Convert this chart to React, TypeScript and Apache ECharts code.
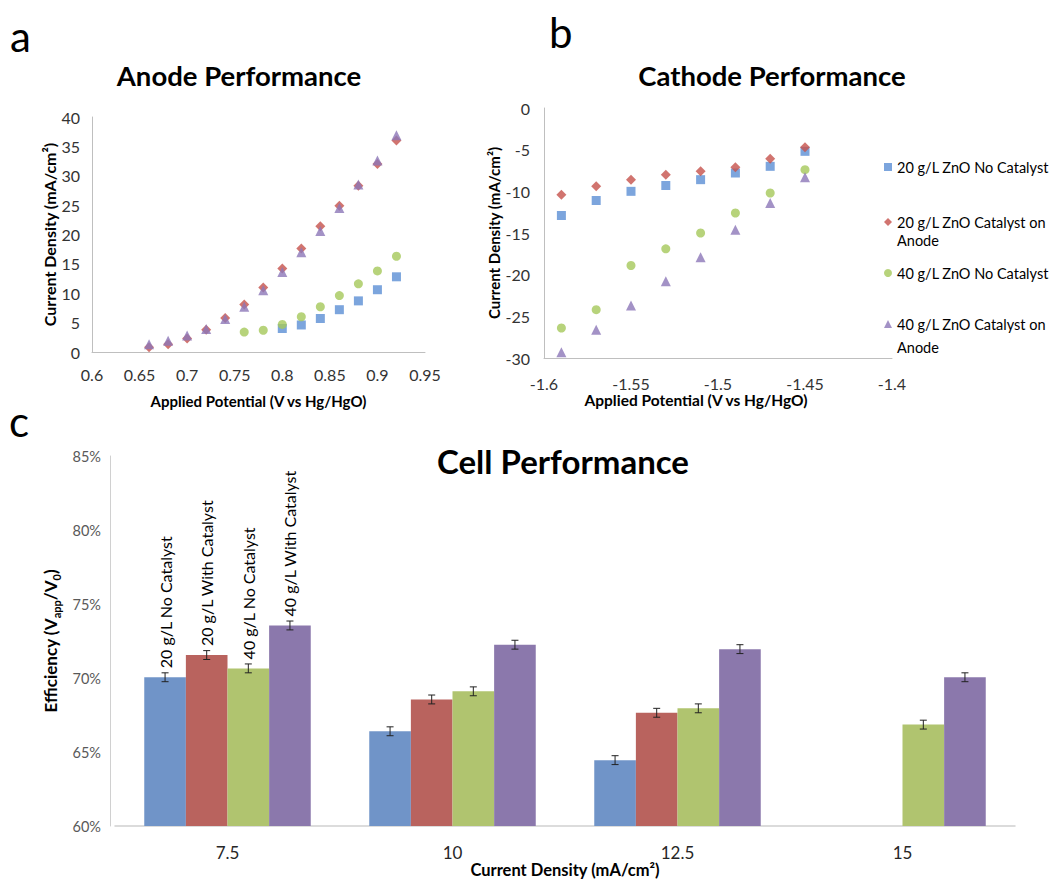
import React, { useEffect, useRef } from "react";
import * as echarts from "echarts";

const FONT = 'Lato, "Open Sans", sans-serif';

// Panel a: Anode performance
const anodeX = [0.66, 0.68, 0.7, 0.72, 0.74, 0.76, 0.78, 0.8, 0.82, 0.84, 0.86, 0.88, 0.9, 0.92];
const anode20NoCat = [null, null, null, null, null, null, null, 4.0, 4.6, 5.7, 7.2, 8.7, 10.6, 12.8];
const anode20Cat = [0.8, 1.3, 2.3, 3.8, 5.8, 8.1, 11.0, 14.2, 17.6, 21.4, 24.9, 28.3, 32.0, 36.0];
const anode40NoCat = [null, null, null, null, null, 3.4, 3.7, 4.7, 6.0, 7.7, 9.6, 11.6, 13.8, 16.3];
const anode40Cat = [1.3, 1.9, 2.8, 3.9, 5.6, 7.7, 10.5, 13.6, 17.0, 20.6, 24.5, 28.5, 32.6, 36.9];

// Panel b: Cathode performance
const cathodeX = [-1.59, -1.57, -1.55, -1.53, -1.51, -1.49, -1.47, -1.45];
const cath20NoCat = [-12.9, -11.1, -10.0, -9.3, -8.6, -7.8, -7.0, -5.2];
const cath20Cat = [-10.4, -9.4, -8.6, -8.0, -7.6, -7.1, -6.1, -4.7];
const cath40NoCat = [-26.4, -24.2, -18.9, -16.9, -15.0, -12.6, -10.2, -7.4];
const cath40Cat = [-29.3, -26.6, -23.7, -20.8, -17.9, -14.6, -11.4, -8.3];

const scatterNames = [
  "20 g/L ZnO No Catalyst",
  "20 g/L ZnO Catalyst on Anode",
  "40 g/L ZnO No Catalyst",
  "40 g/L ZnO Catalyst on Anode",
];
const scatterSymbols = ["rect", "diamond", "circle", "triangle"];
const scatterSizes = [9, 10, 9, 10];
const scatterColors = ["#5B8FD4", "#C5514B", "#A5C85A", "#8C77B8"];

// Panel c: Cell performance
const cellCategories = ["7.5", "10", "12.5", "15"];
const barNames = ["20 g/L No Catalyst", "20 g/L With Catalyst", "40 g/L No Catalyst", "40 g/L With Catalyst"];
const bar20NoCat = [70.05, 66.4, 64.45, null];
const bar20Cat = [71.55, 68.55, 67.65, null];
const bar40NoCat = [70.65, 69.1, 67.95, 66.85];
const bar40Cat = [73.55, 72.25, 71.95, 70.05];
const barErr = [0.3, 0.3, 0.3, 0.3];
const barColors = ["#7094C8", "#B9635E", "#B0C46F", "#8B78AC"];

const CAT_GAP = 0.26;

function pairs(xs: number[], ys: (number | null)[]) {
  const out: number[][] = [];
  ys.forEach((y, i) => {
    if (y !== null) out.push([xs[i], y]);
  });
  return out;
}

export default function App() {
  const ref = useRef<HTMLDivElement>(null);

  useEffect(() => {
    document.body.style.margin = "0";
    if (!ref.current) return;
    const chart = echarts.init(ref.current, null, { renderer: "svg" });

    const anodeSets = [anode20NoCat, anode20Cat, anode40NoCat, anode40Cat];
    const cathSets = [cath20NoCat, cath20Cat, cath40NoCat, cath40Cat];
    const barSets = [bar20NoCat, bar20Cat, bar40NoCat, bar40Cat];

    const axisLineGray = { show: true, onZero: false, lineStyle: { color: "#BFBFBF", width: 1 } };
    const tickLabel = { fontSize: 16, color: "#333", fontFamily: FONT };
    const nameStyle = { fontSize: 15, fontWeight: "bold", color: "#000", fontFamily: FONT };

    const series: any[] = [];
    scatterNames.forEach((name, k) => {
      series.push({
        type: "scatter",
        name,
        xAxisIndex: 0,
        yAxisIndex: 0,
        symbol: scatterSymbols[k],
        symbolSize: scatterSizes[k],
        itemStyle: { color: scatterColors[k] },
        data: pairs(anodeX, anodeSets[k]),
      });
    });
    scatterNames.forEach((name, k) => {
      series.push({
        type: "scatter",
        name,
        xAxisIndex: 1,
        yAxisIndex: 1,
        symbol: scatterSymbols[k],
        symbolSize: scatterSizes[k],
        itemStyle: { color: scatterColors[k] },
        data: pairs(cathodeX, cathSets[k]),
      });
    });
    barNames.forEach((name, k) => {
      series.push({
        type: "bar",
        name,
        xAxisIndex: 2,
        yAxisIndex: 2,
        barGap: "0%",
        barCategoryGap: CAT_GAP * 100 + "%",
        itemStyle: { color: barColors[k] },
        label: {
          show: false,
          position: "top",
          rotate: 90,
          align: "left",
          verticalAlign: "middle",
          distance: 9,
          formatter: name,
          fontSize: 16,
          color: "#000",
          fontFamily: FONT,
        },
        data: barSets[k].map((v, i) => (i === 0 && v !== null ? { value: v, label: { show: true } } : v)),
      });
    });
    barNames.forEach((name, k) => {
      const data = barSets[k]
        .map((v, i) => (v === null ? null : [i, v, barErr[i]]))
        .filter((d) => d !== null);
      series.push({
        type: "custom",
        name: name + " error",
        xAxisIndex: 2,
        yAxisIndex: 2,
        z: 5,
        data,
        encode: { x: 0, y: 1 },
        renderItem: (params: any, api: any) => {
          const idx = api.value(0);
          const v = api.value(1);
          const e = api.value(2);
          const c = api.coord([idx, v]);
          const band = api.size([1, 0])[0];
          const bw = (band * (1 - CAT_GAP)) / 4;
          const x = c[0] + (k - 1.5) * bw;
          const yTop = api.coord([idx, v + e])[1];
          const yBot = api.coord([idx, v - e])[1];
          const st = { stroke: "#222", lineWidth: 1 };
          return {
            type: "group",
            children: [
              { type: "line", shape: { x1: x, y1: yTop, x2: x, y2: yBot }, style: st },
              { type: "line", shape: { x1: x - 3.5, y1: yTop, x2: x + 3.5, y2: yTop }, style: st },
              { type: "line", shape: { x1: x - 3.5, y1: yBot, x2: x + 3.5, y2: yBot }, style: st },
            ],
          };
        },
      });
    });

    const legendTops = [159, 214, 265, 316];
    const legends = scatterNames.map((n, i) => ({
      data: [n],
      left: 884,
      top: legendTops[i],
      orient: "vertical",
      itemWidth: 8,
      itemHeight: 8,
      itemGap: 0,
      padding: 0,
      selectedMode: false,
      formatter: (name: string) => name.replace(" Anode", ""),
      textStyle: { fontSize: 14.5, color: "#000", fontFamily: FONT, lineHeight: 16 },
    }));

    const txt = (text: string, x: number, y: number, size: number, weight: string, align = "center") => ({
      type: "text",
      x,
      y,
      style: {
        text,
        fontSize: size,
        fontWeight: weight,
        fontFamily: FONT,
        fill: "#000",
        align,
        verticalAlign: "middle",
      },
    });

    const option: any = {
      animation: false,
      backgroundColor: "#fff",
      textStyle: { fontFamily: FONT },
      graphic: [
        txt("a", 10, 36, 42, "normal", "left"),
        txt("b", 549, 32, 42, "normal", "left"),
        txt("c", 9, 421, 42, "normal", "left"),
        txt("Anode Performance", 239, 75, 27.5, "bold"),
        txt("Cathode Performance", 772, 75, 27.5, "bold"),
        txt("Cell Performance", 563, 461, 33, "bold"),
        txt("Anode", 897, 240, 14.5, "normal", "left"),
        txt("Anode", 897, 347, 14.5, "normal", "left"),
      ],
      legend: legends,
      grid: [
        { left: 92, top: 117, width: 333, height: 235, outerBoundsMode: "none" },
        { left: 544, top: 108, width: 348, height: 250, outerBoundsMode: "none" },
        { left: 115, top: 456, width: 900, height: 370, outerBoundsMode: "none" },
      ],
      xAxis: [
        {
          type: "value",
          gridIndex: 0,
          min: 0.6,
          max: 0.95,
          interval: 0.05,
          axisLine: axisLineGray,
          axisTick: { show: false },
          splitLine: { show: false },
          axisLabel: { ...tickLabel, margin: 14 },
          name: "Applied Potential (V vs Hg/HgO)",
          nameLocation: "middle",
          nameGap: 41,
          nameTextStyle: nameStyle,
        },
        {
          type: "value",
          gridIndex: 1,
          min: -1.6,
          max: -1.4,
          interval: 0.05,
          axisLine: axisLineGray,
          axisTick: { show: false },
          splitLine: { show: false },
          axisLabel: { ...tickLabel, margin: 17 },
          name: "Applied Potential (V vs Hg/HgO)",
          nameLocation: "middle",
          nameGap: 34,
          nameTextStyle: { ...nameStyle, fontSize: 15.5, padding: [0, 44, 0, 0] },
        },
        {
          type: "category",
          gridIndex: 2,
          data: cellCategories,
          axisLine: { show: true, lineStyle: { color: "#D0D0D0", width: 1.5 } },
          axisTick: { show: false },
          axisLabel: { fontSize: 17, color: "#262626", fontFamily: FONT, margin: 18 },
          name: "Current Density (mA/cm²)",
          nameLocation: "middle",
          nameGap: 35,
          nameTextStyle: { ...nameStyle, fontSize: 16.5 },
        },
      ],
      yAxis: [
        {
          type: "value",
          gridIndex: 0,
          min: 0,
          max: 40,
          interval: 5,
          axisLine: axisLineGray,
          axisTick: { show: false },
          splitLine: { show: false },
          axisLabel: { ...tickLabel, margin: 12 },
          name: "Current Density (mA/cm²)",
          nameLocation: "middle",
          nameGap: 33,
          nameTextStyle: { ...nameStyle, fontSize: 16 },
        },
        {
          type: "value",
          gridIndex: 1,
          min: -30,
          max: 0,
          interval: 5,
          axisLine: axisLineGray,
          axisTick: { show: false },
          splitLine: { show: false },
          axisLabel: { ...tickLabel, margin: 14 },
          name: "Current Density (mA/cm²)",
          nameLocation: "middle",
          nameGap: 38,
          nameTextStyle: { ...nameStyle, fontSize: 15 },
        },
        {
          type: "value",
          gridIndex: 2,
          min: 60,
          max: 85,
          interval: 5,
          offset: 5,
          axisLine: { show: true, onZero: false, lineStyle: { color: "#D0D0D0", width: 1 } },
          axisTick: { show: false },
          splitLine: { show: false },
          axisLabel: { fontSize: 14.5, color: "#595959", fontFamily: FONT, margin: 9, formatter: "{value}%" },
          name: "Efficiency (V{sub|app}/V{sub|0})",
          nameLocation: "middle",
          nameGap: 36,
          nameTextStyle: {
            ...nameStyle,
            fontSize: 17,
            lineHeight: 22,
            rich: {
              sub: { fontSize: 11, fontWeight: "bold", fontFamily: FONT, color: "#000", lineHeight: 14, verticalAlign: "bottom" },
            },
          },
        },
      ],
      series,
    };

    chart.setOption(option);
    return () => chart.dispose();
  }, []);

  return <div ref={ref} style={{ width: 1051, height: 879 }} />;
}
